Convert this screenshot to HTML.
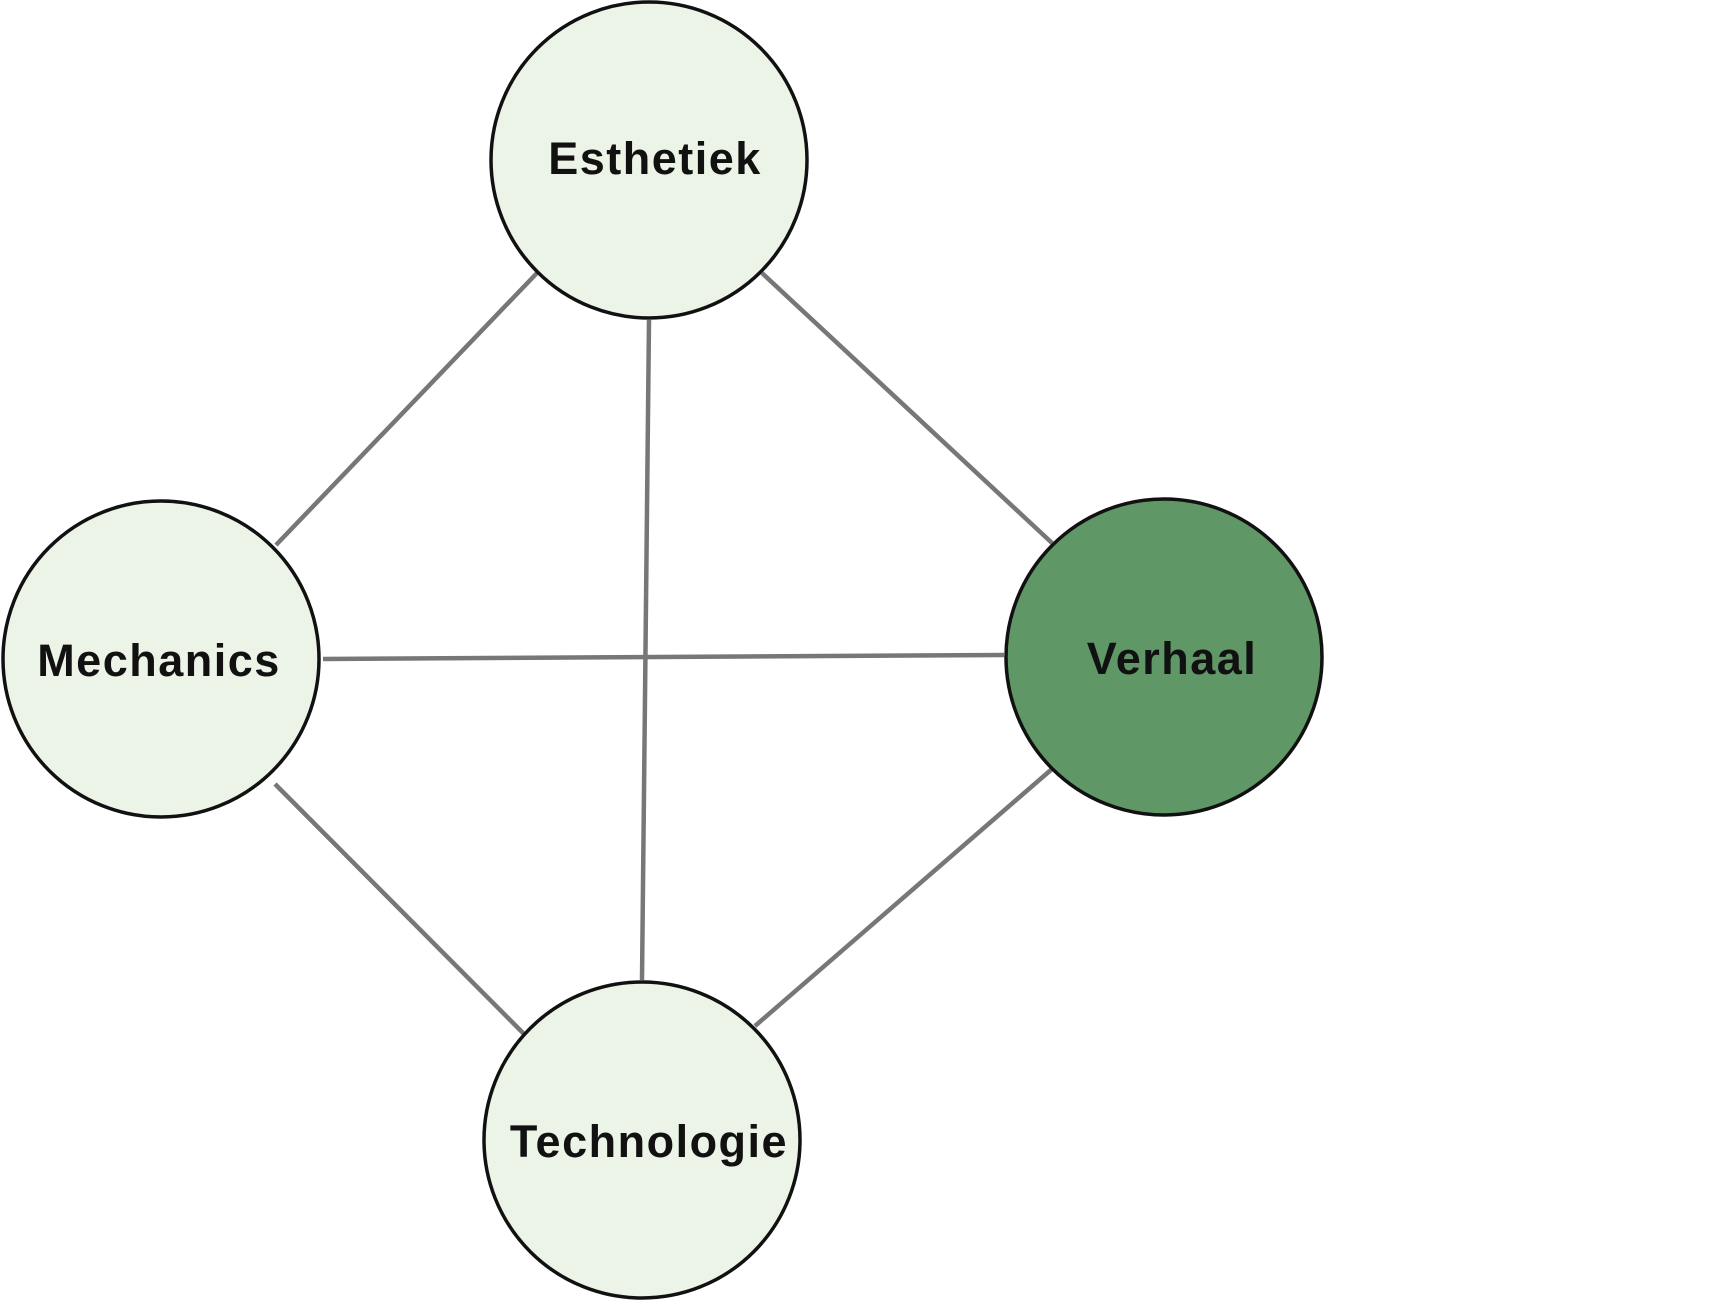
<!DOCTYPE html>
<html><head><style>
html,body{margin:0;padding:0;background:#fff;}
svg{display:block;}
text{font-family:"Liberation Sans",sans-serif;font-weight:bold;font-size:45px;fill:#111;letter-spacing:1.5px;}
</style></head><body>
<svg width="1710" height="1301" viewBox="0 0 1710 1301">
<g stroke="#777" stroke-width="4.5">
<line x1="537" y1="273" x2="276" y2="545"/>
<line x1="762" y1="273" x2="1052" y2="543"/>
<line x1="649" y1="320" x2="642" y2="980"/>
<line x1="323" y1="659" x2="1004" y2="655"/>
<line x1="275" y1="784" x2="530" y2="1040"/>
<line x1="1052" y1="769" x2="755" y2="1026"/>
</g>
<g stroke="#111" stroke-width="3.5">
<circle cx="649" cy="160" r="158" fill="#ebf4e6"/>
<circle cx="161" cy="659" r="158" fill="#ebf4e6"/>
<circle cx="1164" cy="657" r="158" fill="#5f9767"/>
<circle cx="642" cy="1140" r="158" fill="#ebf4e6"/>
</g>
<text x="655" y="174" text-anchor="middle">Esthetiek</text>
<text x="159" y="676" text-anchor="middle">Mechanics</text>
<text x="1172" y="674" text-anchor="middle">Verhaal</text>
<text x="649" y="1157" text-anchor="middle">Technologie</text>
</svg>
</body></html>
